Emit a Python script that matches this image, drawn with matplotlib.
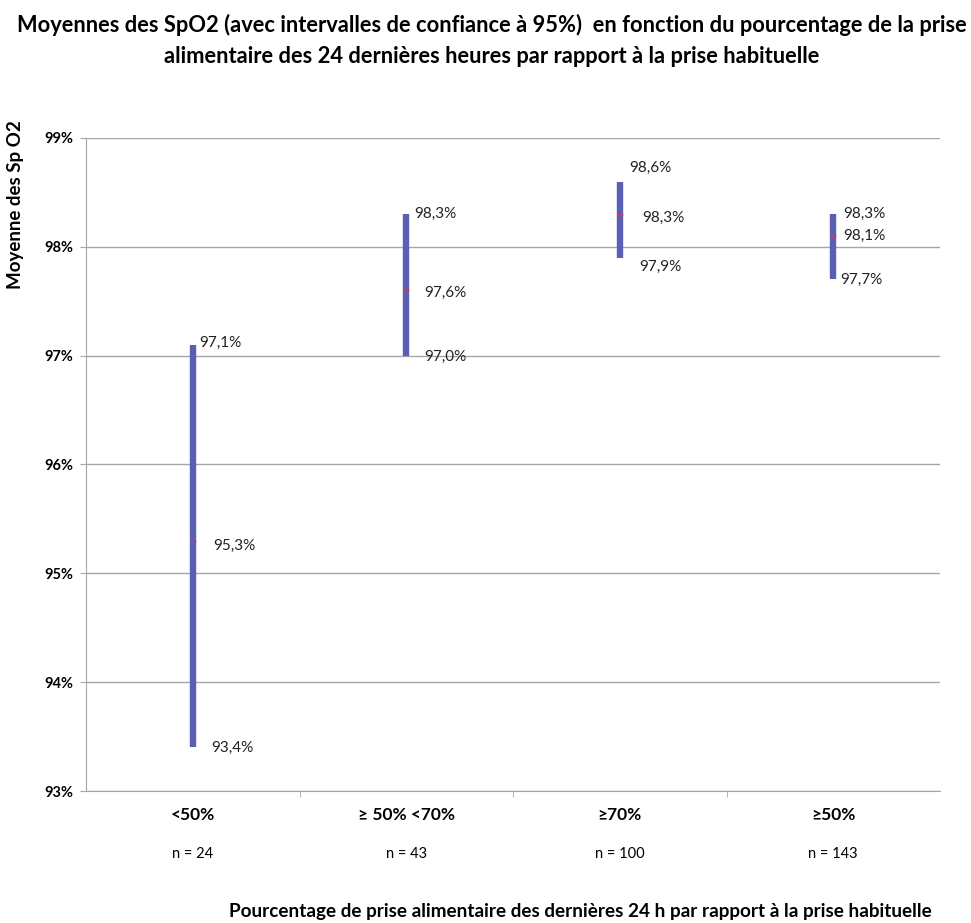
import numpy as np
import matplotlib.pyplot as plt

plt.rcParams['font.family'] = ['Lato', 'DejaVu Sans']

categories = ['<50%', '≥ 50% <70%', '≥70%', '≥50%']
effectifs = ['n = 24', 'n = 43', 'n = 100', 'n = 143']
ic_bas = [93.4, 97.0, 97.9, 97.7]
moyenne = [95.3, 97.6, 98.3, 98.1]
ic_haut = [97.1, 98.3, 98.6, 98.3]

titre1 = "Moyennes des SpO2 (avec intervalles de confiance à 95%)  en fonction du pourcentage de la prise"
titre2 = "alimentaire des 24 dernières heures par rapport à la prise habituelle"
xlabel = "Pourcentage de prise alimentaire des dernières 24 h par rapport à la prise habituelle"
ylabel = "Moyenne des Sp O2"

# decalages des etiquettes (points), comme dans Excel
off_haut = [(5, 1.5), (6, 0), (7, 10), (7, 0)]
off_moy = [(14.5, -4), (13, -1.5), (16, -3), (7, 0)]
off_bas = [(13.5, 0), (13, -1), (14, -6.5), (5, 0)]

def fmt(v):
    return f"{v:.1f}%".replace('.', ',')

fig = plt.figure(figsize=(9.71, 9.23), dpi=100)
ax = fig.add_axes([0.0886, 0.143, 0.8795, 0.7075])

x = np.arange(len(categories))
ax.vlines(x, ic_bas, ic_haut, color='#5a5fb4', linewidth=4.6, zorder=3)
ax.plot(x, moyenne, linestyle='none', marker='_', markersize=4,
        markeredgewidth=1, color='#d04050', zorder=4)

for i in range(len(x)):
    for val, off in ((ic_haut[i], off_haut[i]), (moyenne[i], off_moy[i]), (ic_bas[i], off_bas[i])):
        ax.annotate(fmt(val), (x[i], val), xytext=off, textcoords='offset points',
                    ha='left', va='center', fontsize=11, color='#222222')

ax.set_xlim(-0.5, len(categories) - 0.5)
ax.set_ylim(93, 99)
ax.set_yticks(np.arange(93, 100))
ax.set_yticklabels([f"{v}%" for v in range(93, 100)], fontsize=10.5, fontweight='bold')
ax.yaxis.grid(True, color='#a6a6a6', linewidth=1)
ax.set_axisbelow(True)

ax.set_xticks(x)
ax.set_xticklabels([''] * len(x))
ax.tick_params(axis='x', length=0)
ax.set_xticks(np.arange(0.5, len(x) - 1), minor=True)
ax.tick_params(axis='x', which='minor', length=4, color='#a6a6a6')
ax.tick_params(axis='y', length=4, color='#a6a6a6', pad=5)

for s in ['top', 'right']:
    ax.spines[s].set_visible(False)
for s in ['left', 'bottom']:
    ax.spines[s].set_color('#a6a6a6')

for i in range(len(x)):
    ax.annotate(categories[i], (x[i], 93), xytext=(0, -17), textcoords='offset points',
                ha='center', va='center', fontsize=12.5, fontweight='bold')
    ax.annotate(effectifs[i], (x[i], 93), xytext=(0, -45), textcoords='offset points',
                ha='center', va='center', fontsize=10.5)

t1 = fig.text(0.507, 1 - 32 / 923, titre1, ha='center', va='baseline', fontsize=15, fontweight='bold')
t2 = fig.text(0.506, 1 - 63 / 923, titre2, ha='center', va='baseline', fontsize=15, fontweight='bold')
tx = fig.text(0.598, 1 - 917 / 923, xlabel, ha='center', va='baseline', fontsize=14, fontweight='bold')
ty = fig.text(0.0155, 1 - 205 / 923, ylabel, rotation=90, ha='center', va='center',
              fontsize=14, fontweight='bold')

# ajuste la taille des textes a la largeur mesuree sur l'original (pixels)
rend = fig.canvas.get_renderer()
def ajuste(t, cible, sens='w'):
    bb = t.get_window_extent(rend)
    taille = bb.width if sens == 'w' else bb.height
    t.set_fontsize(t.get_fontsize() * cible / taille)

ajuste(t1, 950)
t2.set_fontsize(t1.get_fontsize())
ajuste(tx, 708)
ajuste(ty, 170, 'h')

fig.savefig('out.png', dpi=100)
